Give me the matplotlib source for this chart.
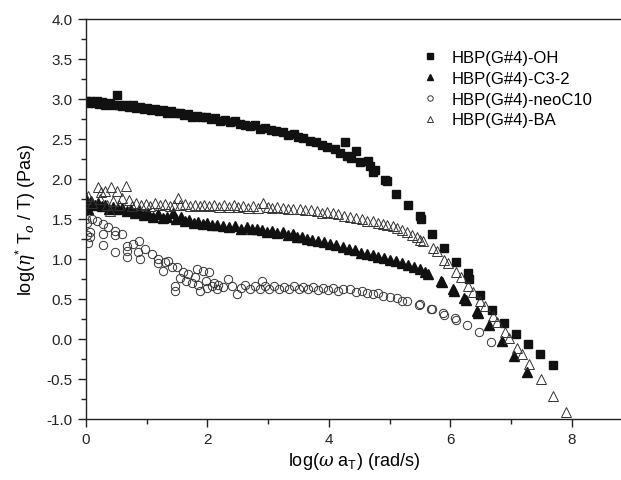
import matplotlib
matplotlib.use("Agg")
import matplotlib.pyplot as plt
from matplotlib.ticker import MultipleLocator

plt.rcParams['font.family'] = ['Liberation Sans', 'DejaVu Sans']
plt.rcParams['mathtext.fontset'] = 'custom'
plt.rcParams['mathtext.rm'] = 'Liberation Sans'
plt.rcParams['mathtext.it'] = 'DejaVu Serif:italic'

# HBP(G#4)-OH
oh_x = [0.00, 0.03, 0.06, 0.10, 0.14, 0.18, 0.22, 0.27, 0.31, 0.36, 0.40, 0.45, 0.51, 0.55, 0.60,
        0.66, 0.71, 0.77, 0.83, 0.89, 0.95, 1.01, 1.07, 1.13, 1.20, 1.26, 1.33, 1.40, 1.47, 1.54,
        1.61, 1.68, 1.75, 1.83, 1.90, 1.98, 2.05, 2.13, 2.21, 2.29, 2.37, 2.45, 2.53, 2.62, 2.70,
        2.78, 2.86, 2.95, 3.04, 3.13, 3.24, 3.33, 3.42, 3.49, 3.58, 3.69, 3.78, 3.88, 3.97, 4.10,
        4.18, 4.26, 4.30, 4.36, 4.44, 4.51, 4.64, 4.67, 4.72, 4.76, 4.92, 4.95, 5.10, 5.30, 5.50,
        5.52, 5.70, 5.89, 6.09, 6.29, 6.31, 6.49, 6.68, 6.88, 7.08, 7.28, 7.47, 7.69]
oh_y = [2.97, 2.95, 2.97, 2.96, 2.95, 2.97, 2.94, 2.96, 2.93, 2.95, 2.94, 2.92, 3.05, 2.93, 2.91,
        2.93, 2.90, 2.92, 2.89, 2.90, 2.88, 2.89, 2.86, 2.88, 2.85, 2.86, 2.83, 2.85, 2.82, 2.83,
        2.80, 2.81, 2.78, 2.79, 2.77, 2.78, 2.75, 2.76, 2.73, 2.74, 2.71, 2.72, 2.69, 2.68, 2.66,
        2.67, 2.63, 2.64, 2.61, 2.60, 2.59, 2.55, 2.56, 2.52, 2.51, 2.48, 2.46, 2.42, 2.40, 2.37,
        2.33, 2.46, 2.29, 2.26, 2.35, 2.21, 2.23, 2.16, 2.09, 2.11, 1.99, 1.97, 1.81, 1.68, 1.54,
        1.50, 1.31, 1.14, 0.96, 0.82, 0.75, 0.55, 0.36, 0.20, 0.06, -0.06, -0.19, -0.32]

# HBP(G#4)-C3-2
c3_x = [0.00, 0.01, 0.03, 0.08, 0.15, 0.20, 0.26, 0.32, 0.38, 0.45, 0.52, 0.60, 0.67, 0.74, 0.80,
        0.88, 0.95, 1.02, 1.10, 1.19, 1.26, 1.33, 1.43, 1.48, 1.56, 1.63, 1.70, 1.78, 1.84, 1.92,
        2.00, 2.08, 2.16, 2.26, 2.35, 2.45, 2.55, 2.65, 2.73, 2.82, 2.90, 2.98, 3.06, 3.15, 3.24,
        3.33, 3.40, 3.47, 3.55, 3.63, 3.72, 3.82, 3.92, 4.02, 4.12, 4.23, 4.33, 4.43, 4.52, 4.62,
        4.72, 4.81, 4.90, 5.00, 5.10, 5.20, 5.30, 5.40, 5.50, 5.58, 5.63, 5.84, 5.86, 6.04, 6.06,
        6.22, 6.25, 6.44, 6.46, 6.63, 6.85, 7.05, 7.26]
c3_y = [1.75, 1.68, 1.62, 1.72, 1.68, 1.70, 1.66, 1.67, 1.63, 1.65, 1.62, 1.64, 1.60, 1.61, 1.57,
        1.60, 1.55, 1.57, 1.52, 1.56, 1.51, 1.53, 1.58, 1.50, 1.52, 1.48, 1.49, 1.45, 1.46, 1.44,
        1.45, 1.42, 1.43, 1.41, 1.40, 1.41, 1.38, 1.40, 1.37, 1.38, 1.36, 1.34, 1.35, 1.33, 1.34,
        1.30, 1.31, 1.28, 1.27, 1.25, 1.24, 1.22, 1.21, 1.19, 1.17, 1.15, 1.13, 1.11, 1.08, 1.06,
        1.05, 1.03, 1.01, 0.99, 0.97, 0.95, 0.92, 0.90, 0.87, 0.84, 0.81, 0.73, 0.71, 0.62, 0.60,
        0.51, 0.49, 0.35, 0.33, 0.17, -0.02, -0.21, -0.41]

# HBP(G#4)-neoC10
neo_x = [0.00, 0.01, 0.02, 0.03, 0.07, 0.07, 0.10, 0.18, 0.28, 0.28, 0.28, 0.36, 0.48, 0.48, 0.48,
         0.59, 0.67, 0.67, 0.67, 0.77, 0.87, 0.86, 0.89, 0.97, 1.09, 1.19, 1.19, 1.27, 1.30, 1.35,
         1.42, 1.47, 1.47, 1.50, 1.55, 1.60, 1.65, 1.68, 1.75, 1.79, 1.83, 1.85, 1.88, 1.93, 1.97,
         2.00, 2.02, 2.07, 2.10, 2.15, 2.18, 2.25, 2.34, 2.40, 2.49, 2.55, 2.62, 2.70, 2.78, 2.86,
         2.90, 2.94, 3.02, 3.10, 3.18, 3.26, 3.34, 3.42, 3.50, 3.58, 3.66, 3.74, 3.82, 3.90, 3.98,
         4.07, 4.15, 4.23, 4.35, 4.45, 4.55, 4.62, 4.72, 4.80, 4.89, 5.00, 5.12, 5.20, 5.28, 5.48,
         5.50, 5.68, 5.70, 5.88, 5.90, 6.07, 6.09, 6.27, 6.47, 6.67]
neo_y = [1.50, 1.45, 1.30, 1.20, 1.34, 1.28, 1.50, 1.48, 1.44, 1.31, 1.18, 1.40, 1.35, 1.30, 1.09,
         1.31, 1.16, 1.10, 1.02, 1.19, 1.23, 1.09, 1.00, 1.12, 1.06, 1.00, 0.95, 0.85, 0.96, 0.97,
         0.90, 0.66, 0.60, 0.90, 0.76, 0.84, 0.72, 0.81, 0.70, 0.77, 0.87, 0.68, 0.60, 0.85, 0.72,
         0.64, 0.84, 0.66, 0.70, 0.62, 0.68, 0.65, 0.75, 0.66, 0.56, 0.64, 0.67, 0.63, 0.66, 0.62,
         0.73, 0.66, 0.63, 0.66, 0.62, 0.65, 0.62, 0.66, 0.63, 0.65, 0.62, 0.65, 0.61, 0.64, 0.61,
         0.64, 0.60, 0.63, 0.62, 0.59, 0.60, 0.58, 0.56, 0.57, 0.54, 0.52, 0.51, 0.48, 0.47, 0.43,
         0.44, 0.38, 0.37, 0.32, 0.30, 0.26, 0.24, 0.18, 0.09, -0.04]

# HBP(G#4)-BA
ba_x = [0.00, 0.03, 0.10, 0.20, 0.23, 0.25, 0.31, 0.35, 0.40, 0.41, 0.44, 0.51, 0.55, 0.60, 0.66,
        0.70, 0.75, 0.82, 0.90, 0.98, 1.06, 1.14, 1.22, 1.30, 1.38, 1.45, 1.51, 1.55, 1.63, 1.71,
        1.79, 1.87, 1.95, 2.03, 2.11, 2.19, 2.27, 2.35, 2.43, 2.51, 2.59, 2.67, 2.75, 2.83, 2.91,
        2.99, 3.07, 3.15, 3.24, 3.32, 3.40, 3.52, 3.60, 3.70, 3.80, 3.88, 3.97, 4.06, 4.15, 4.25,
        4.35, 4.45, 4.54, 4.63, 4.72, 4.80, 4.89, 4.96, 5.05, 5.12, 5.20, 5.28, 5.37, 5.45, 5.50,
        5.55, 5.71, 5.78, 5.89, 5.96, 6.09, 6.17, 6.29, 6.37, 6.49, 6.57, 6.70, 6.77, 6.90, 6.96,
        7.09, 7.18, 7.29, 7.49, 7.69, 7.90]
ba_y = [1.75, 1.79, 1.70, 1.90, 1.75, 1.84, 1.85, 1.68, 1.60, 1.90, 1.73, 1.85, 1.68, 1.76, 1.91,
        1.74, 1.66, 1.70, 1.67, 1.69, 1.66, 1.70, 1.67, 1.69, 1.66, 1.68, 1.76, 1.67, 1.69, 1.66,
        1.68, 1.66, 1.68, 1.66, 1.68, 1.65, 1.67, 1.65, 1.67, 1.65, 1.66, 1.64, 1.66, 1.64, 1.70,
        1.65, 1.64, 1.65, 1.64, 1.62, 1.63, 1.62, 1.61, 1.61, 1.60, 1.58, 1.59, 1.57, 1.56, 1.54,
        1.52, 1.51, 1.50, 1.48, 1.47, 1.45, 1.44, 1.42, 1.41, 1.39, 1.36, 1.34, 1.30, 1.27, 1.24,
        1.22, 1.14, 1.10, 0.99, 0.95, 0.84, 0.77, 0.66, 0.59, 0.47, 0.41, 0.29, 0.21, 0.09, 0.01,
        -0.11, -0.19, -0.31, -0.50, -0.71, -0.91]

labels = ['HBP(G#4)-OH', 'HBP(G#4)-C3-2', 'HBP(G#4)-neoC10', 'HBP(G#4)-BA']

fig = plt.figure(figsize=(6.21, 4.81), dpi=100)
ax = fig.add_axes([86/621, 61/481, 535/621, 400/481])

ax.plot(oh_x, oh_y, linestyle='none', marker='s', ms=5.8, color='#111111', mec='#111111', label=labels[0])
ax.plot(c3_x, c3_y, linestyle='none', marker='^', ms=7, color='#111111', mec='#111111', label=labels[1])
ax.plot(neo_x, neo_y, linestyle='none', marker='o', ms=6, mfc='none', mec='#333333', mew=0.7, label=labels[2])
ax.plot(ba_x, ba_y, linestyle='none', marker='^', ms=6.8, mfc='none', mec='#333333', mew=0.7, label=labels[3])

ax.set_xlim(0, 8.807)
ax.set_ylim(-1.0, 4.0)
ax.xaxis.set_major_locator(MultipleLocator(2))
ax.xaxis.set_minor_locator(MultipleLocator(1))
ax.yaxis.set_major_locator(MultipleLocator(0.5))
ax.yaxis.set_minor_locator(MultipleLocator(0.25))
ax.yaxis.set_major_formatter(matplotlib.ticker.FormatStrFormatter('%.1f'))
ax.tick_params(which='major', direction='out', length=6, width=1, labelsize=11, colors='#222222')
ax.tick_params(which='minor', direction='out', length=3.5, width=1, colors='#222222')
ax.spines['right'].set_visible(False)
for s in ['left', 'bottom', 'top']:
    ax.spines[s].set_linewidth(1.0)
    ax.spines[s].set_color('#222222')

ax.set_xlabel(r'log($\it{\omega}$ a$_{\rm T}$) (rad/s)', fontsize=13, labelpad=3)
ax.set_ylabel(r'log($\it{\eta}^{*}$ T$_{o}$ / T) (Pas)', fontsize=13, labelpad=6)

leg = ax.legend(loc='upper left', bbox_to_anchor=(0.6, 0.96), frameon=False, fontsize=12,
                handlelength=1.0, handletextpad=0.8, labelspacing=0.35, markerscale=0.65)

fig.savefig('out.png', dpi=100)
